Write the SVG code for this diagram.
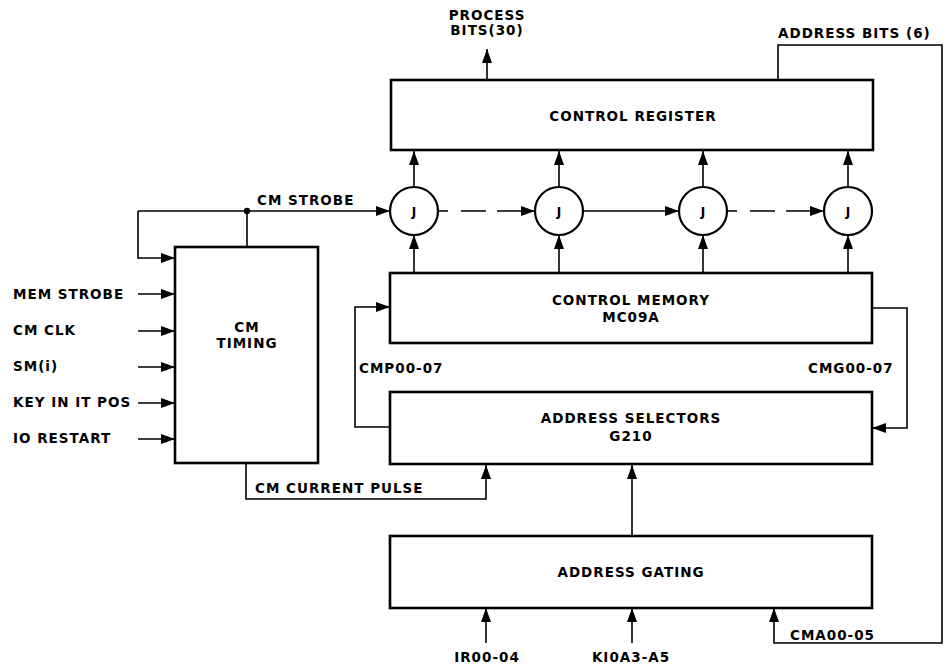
<svg xmlns="http://www.w3.org/2000/svg" width="948" height="665" viewBox="0 0 948 665">
<defs>
<style>
.box{fill:#fff;stroke:#000;stroke-width:2.6}
.ln{fill:none;stroke:#000;stroke-width:1.6}
.jc{fill:#fff;stroke:#000;stroke-width:2.2}
text{font-family:"DejaVu Sans","Liberation Sans",sans-serif;font-size:13.5px;fill:#000;letter-spacing:1px;font-weight:600}
.c{text-anchor:middle}
.j{font-size:12px;letter-spacing:0}
</style>
<marker id="ah" viewBox="0 0 14 10" refX="14" refY="5" markerWidth="14" markerHeight="10" markerUnits="userSpaceOnUse" orient="auto">
<path d="M0,0 L14,5 L0,10 z" fill="#000"/>
</marker>
</defs>
<rect width="948" height="665" fill="#fff"/>

<g id="connectors">
<path class="ln" d="M487,80 V49" marker-end="url(#ah)"/>
<path class="ln" d="M778,80 V45 H942 V643 H774 V608" marker-end="url(#ah)"/>
<path class="ln" d="M414,187 V151" marker-end="url(#ah)"/>
<path class="ln" d="M559,187 V151" marker-end="url(#ah)"/>
<path class="ln" d="M703,187 V151" marker-end="url(#ah)"/>
<path class="ln" d="M848,187 V151" marker-end="url(#ah)"/>
<path class="ln" d="M414,273 V235" marker-end="url(#ah)"/>
<path class="ln" d="M559,273 V235" marker-end="url(#ah)"/>
<path class="ln" d="M703,273 V235" marker-end="url(#ah)"/>
<path class="ln" d="M848,273 V235" marker-end="url(#ah)"/>
<path class="ln" d="M138,211 H390" marker-end="url(#ah)"/>
<path class="ln" d="M247,211 V247"/>
<path class="ln" d="M138,211 V258 H175" marker-end="url(#ah)"/>
<circle cx="247" cy="211" r="3.2" fill="#000"/>
<path class="ln" d="M438,211 H448 M461,211 H486 M497,211 H535" marker-end="url(#ah)"/>
<path class="ln" d="M583,211 H679" marker-end="url(#ah)"/>
<path class="ln" d="M727,211 H737 M750,211 H775 M786,211 H824" marker-end="url(#ah)"/>
<path class="ln" d="M138,294 H175" marker-end="url(#ah)"/>
<path class="ln" d="M138,331 H175" marker-end="url(#ah)"/>
<path class="ln" d="M138,367 H175" marker-end="url(#ah)"/>
<path class="ln" d="M138,403 H175" marker-end="url(#ah)"/>
<path class="ln" d="M138,439 H175" marker-end="url(#ah)"/>
<path class="ln" d="M390,427 H355 V307 H390" marker-end="url(#ah)"/>
<path class="ln" d="M872,308 H907 V428 H872" marker-end="url(#ah)"/>
<path class="ln" d="M246,463 V499 H486 V465" marker-end="url(#ah)"/>
<path class="ln" d="M632,536 V465" marker-end="url(#ah)"/>
<path class="ln" d="M486,643 V608" marker-end="url(#ah)"/>
<path class="ln" d="M632,643 V608" marker-end="url(#ah)"/>
</g>

<g id="labels">
<text class="c" x="487" y="20">PROCESS</text>
<text class="c" x="487" y="35">BITS(30)</text>
<text x="778" y="38">ADDRESS BITS (6)</text>
<text x="257" y="205">CM STROBE</text>
<text x="13" y="299">MEM STROBE</text>
<text x="13" y="335">CM CLK</text>
<text x="13" y="371">SM(i)</text>
<text x="13" y="407">KEY IN IT POS</text>
<text x="13" y="443">IO RESTART</text>
<text x="359" y="373">CMP00-07</text>
<text x="808" y="373">CMG00-07</text>
<text x="255" y="493">CM CURRENT PULSE</text>
<text x="790" y="640">CMA00-05</text>
<text class="c" x="487" y="662">IR00-04</text>
<text class="c" x="631" y="662">KI0A3-A5</text>
</g>

<g id="control-register">
<rect class="box" x="391" y="80" width="482" height="70"/>
<text class="c" x="633" y="121">CONTROL REGISTER</text>
</g>
<g id="j1"><circle class="jc" cx="414" cy="211" r="24"/><text class="c j" x="414" y="216">J</text></g>
<g id="j2"><circle class="jc" cx="559" cy="211" r="24"/><text class="c j" x="559" y="216">J</text></g>
<g id="j3"><circle class="jc" cx="703" cy="211" r="24"/><text class="c j" x="703" y="216">J</text></g>
<g id="j4"><circle class="jc" cx="848" cy="211" r="24"/><text class="c j" x="848" y="216">J</text></g>
<g id="cm-timing">
<rect class="box" x="175" y="247" width="143" height="216"/>
<text class="c" x="247" y="332">CM</text>
<text class="c" x="247" y="348">TIMING</text>
</g>
<g id="control-memory">
<rect class="box" x="390" y="273" width="482" height="70"/>
<text class="c" x="631" y="305">CONTROL MEMORY</text>
<text class="c" x="631" y="322">MC09A</text>
</g>
<g id="address-selectors">
<rect class="box" x="390" y="392" width="482" height="72"/>
<text class="c" x="631" y="423">ADDRESS SELECTORS</text>
<text class="c" x="631" y="441">G210</text>
</g>
<g id="address-gating">
<rect class="box" x="390" y="536" width="482" height="72"/>
<text class="c" x="631" y="577">ADDRESS GATING</text>
</g>
</svg>
